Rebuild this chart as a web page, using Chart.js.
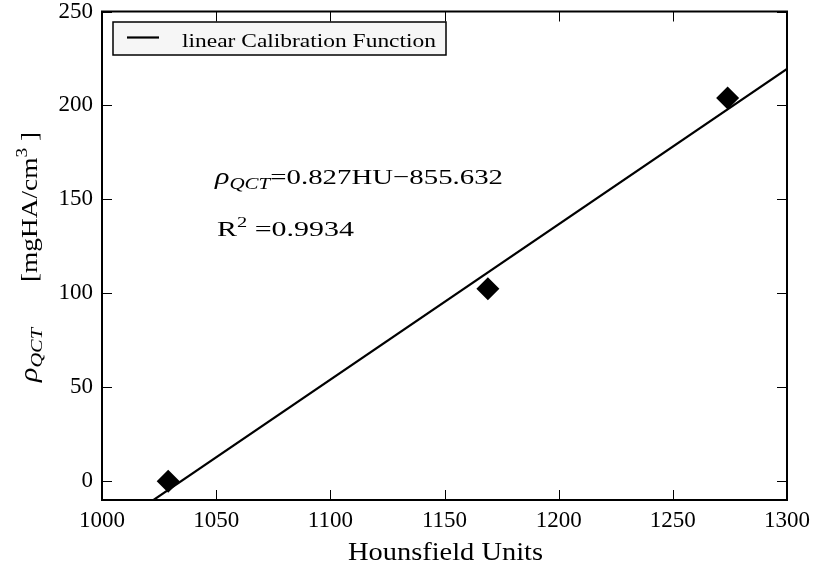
<!DOCTYPE html>
<html>
<head>
<meta charset="utf-8">
<script src="https://cdn.jsdelivr.net/npm/chart.js@4.4.0/dist/chart.umd.min.js"></script>
<style>
  html, body { margin: 0; padding: 0; background: #fff; }
</style>
</head>
<body>
<canvas id="calib" width="815" height="570"></canvas>
<script>
// phantom measurements: mean HU of each insert vs. nominal density
const hounsfield = [1029, 1169, 1274];
const densityQCT = [0, 102.5, 204];

// linear fit reported in the plot
const fitSlope = 0.827;
const fitIntercept = -855.632;
const fitR2 = 0.9934;
const fitRange = [1000, 1300];

const xTicks = [1000, 1050, 1100, 1150, 1200, 1250, 1300];
const yTicks = [0, 50, 100, 150, 200, 250];

const SERIF = '"Liberation Serif", "DejaVu Serif", serif';

function setFont(ctx, r) {
  ctx.font = (r.italic ? 'italic ' : '') + r.size + 'px ' + SERIF;
}

function runsWidth(ctx, runs) {
  let w = 0;
  runs.forEach(r => { setFont(ctx, r); w += ctx.measureText(r.text).width; });
  return w;
}

// draw text runs (sub/superscripts) squeezed or stretched to a given width
function drawRuns(ctx, runs, x, y, width) {
  const sx = width / runsWidth(ctx, runs);
  ctx.save();
  ctx.translate(x, y);
  ctx.scale(sx, 1);
  let cx = 0;
  runs.forEach(r => {
    setFont(ctx, r);
    ctx.fillText(r.text, cx, r.dy || 0);
    cx += ctx.measureText(r.text).width;
  });
  ctx.restore();
}

const overlay = {
  id: 'overlay',
  afterDraw(chart) {
    const ctx = chart.ctx;
    const { left, right, top, bottom } = chart.chartArea;
    const xs = chart.scales.x, ys = chart.scales.y;
    ctx.save();
    ctx.fillStyle = '#000';
    ctx.strokeStyle = '#000';
    ctx.textBaseline = 'alphabetic';
    ctx.textAlign = 'left';

    // inward ticks on all four sides
    ctx.lineWidth = 1;
    ctx.beginPath();
    xs.ticks.forEach(t => {
      const px = Math.round(xs.getPixelForValue(t.value)) + 0.5;
      ctx.moveTo(px, bottom); ctx.lineTo(px, bottom - 10);
      ctx.moveTo(px, top); ctx.lineTo(px, top + 10);
    });
    ys.ticks.forEach(t => {
      const py = Math.round(ys.getPixelForValue(t.value)) + 0.5;
      ctx.moveTo(left, py); ctx.lineTo(left + 10, py);
      ctx.moveTo(right, py); ctx.lineTo(right - 10, py);
    });
    ctx.stroke();

    // axes frame
    ctx.lineWidth = 2;
    ctx.strokeRect(left, top, right - left, bottom - top);

    // legend box
    const lx = left + 11, ly = top + 10.5;
    ctx.fillStyle = '#f6f6f6';
    ctx.fillRect(lx, ly, 333, 33);
    ctx.lineWidth = 1.5;
    ctx.strokeRect(lx, ly, 333, 33);
    ctx.lineWidth = 2.2;
    ctx.beginPath();
    ctx.moveTo(lx + 14, ly + 15.5); ctx.lineTo(lx + 46, ly + 15.5);
    ctx.stroke();
    ctx.fillStyle = '#000';
    drawRuns(ctx, [{ text: chart.data.datasets[0].label, size: 19 }], lx + 69, ly + 25, 254);

    // fit equation and R^2
    drawRuns(ctx, [
      { text: '\u03c1', italic: true, size: 23 },
      { text: 'QCT', italic: true, size: 16, dy: 5 },
      { text: '=' + fitSlope.toFixed(3) + 'HU\u2212' + Math.abs(fitIntercept).toFixed(3), size: 22 }
    ], 215, 184, 288);
    drawRuns(ctx, [
      { text: 'R', size: 22 },
      { text: '2', size: 15, dy: -9 },
      { text: ' =' + fitR2.toFixed(4), size: 22 }
    ], 217, 236, 137);

    // x axis title
    drawRuns(ctx, [{ text: 'Hounsfield Units', size: 25 }], 348, 559.5, 195);

    // y axis title, rotated (reads bottom to top)
    ctx.translate(37, 0);
    ctx.rotate(-Math.PI / 2);
    drawRuns(ctx, [
      { text: '\u03c1', italic: true, size: 25 },
      { text: 'QCT', italic: true, size: 17, dy: 5 }
    ], -382, 0, 54);
    drawRuns(ctx, [
      { text: '[mgHA/cm', size: 24 },
      { text: '3', size: 17, dy: -10 },
      { text: ' ]', size: 24 }
    ], -282, 0, 150);
    ctx.restore();
  }
};

new Chart(document.getElementById('calib'), {
  type: 'scatter',
  data: {
    datasets: [
      {
        type: 'line',
        label: 'linear Calibration Function',
        data: fitRange.map(x => ({ x: x, y: fitSlope * x + fitIntercept })),
        borderColor: '#000',
        borderWidth: 2.2,
        pointRadius: 0,
        fill: false
      },
      {
        label: 'phantom',
        data: hounsfield.map((x, i) => ({ x: x, y: densityQCT[i] })),
        pointStyle: 'rectRot',
        pointRadius: 11.5,
        backgroundColor: '#000',
        borderColor: '#000',
        borderWidth: 0
      }
    ]
  },
  options: {
    responsive: false,
    animation: false,
    events: [],
    layout: { padding: { top: 10, right: 28, left: 0, bottom: 0 } },
    plugins: {
      legend: { display: false },
      tooltip: { enabled: false }
    },
    scales: {
      x: {
        type: 'linear',
        min: 1000,
        max: 1300,
        afterBuildTicks: s => { s.ticks = xTicks.map(v => ({ value: v })); },
        afterFit: s => { s.height = 70; s.paddingLeft = 0; s.paddingRight = 0; },
        grid: { display: false, drawTicks: false },
        border: { display: false },
        ticks: {
          color: '#000',
          padding: 7,
          maxRotation: 0,
          autoSkip: false,
          font: { family: SERIF, size: 23 },
          callback: v => String(v)
        }
      },
      y: {
        type: 'linear',
        min: -10,
        max: 250,
        afterBuildTicks: s => { s.ticks = yTicks.map(v => ({ value: v })); },
        afterFit: s => { s.width = 102; s.paddingTop = 0; s.paddingBottom = 0; },
        grid: { display: false, drawTicks: false },
        border: { display: false },
        ticks: {
          color: '#000',
          padding: 9,
          autoSkip: false,
          font: { family: SERIF, size: 23 },
          callback: v => String(v)
        }
      }
    }
  },
  plugins: [overlay]
});
</script>
</body>
</html>
